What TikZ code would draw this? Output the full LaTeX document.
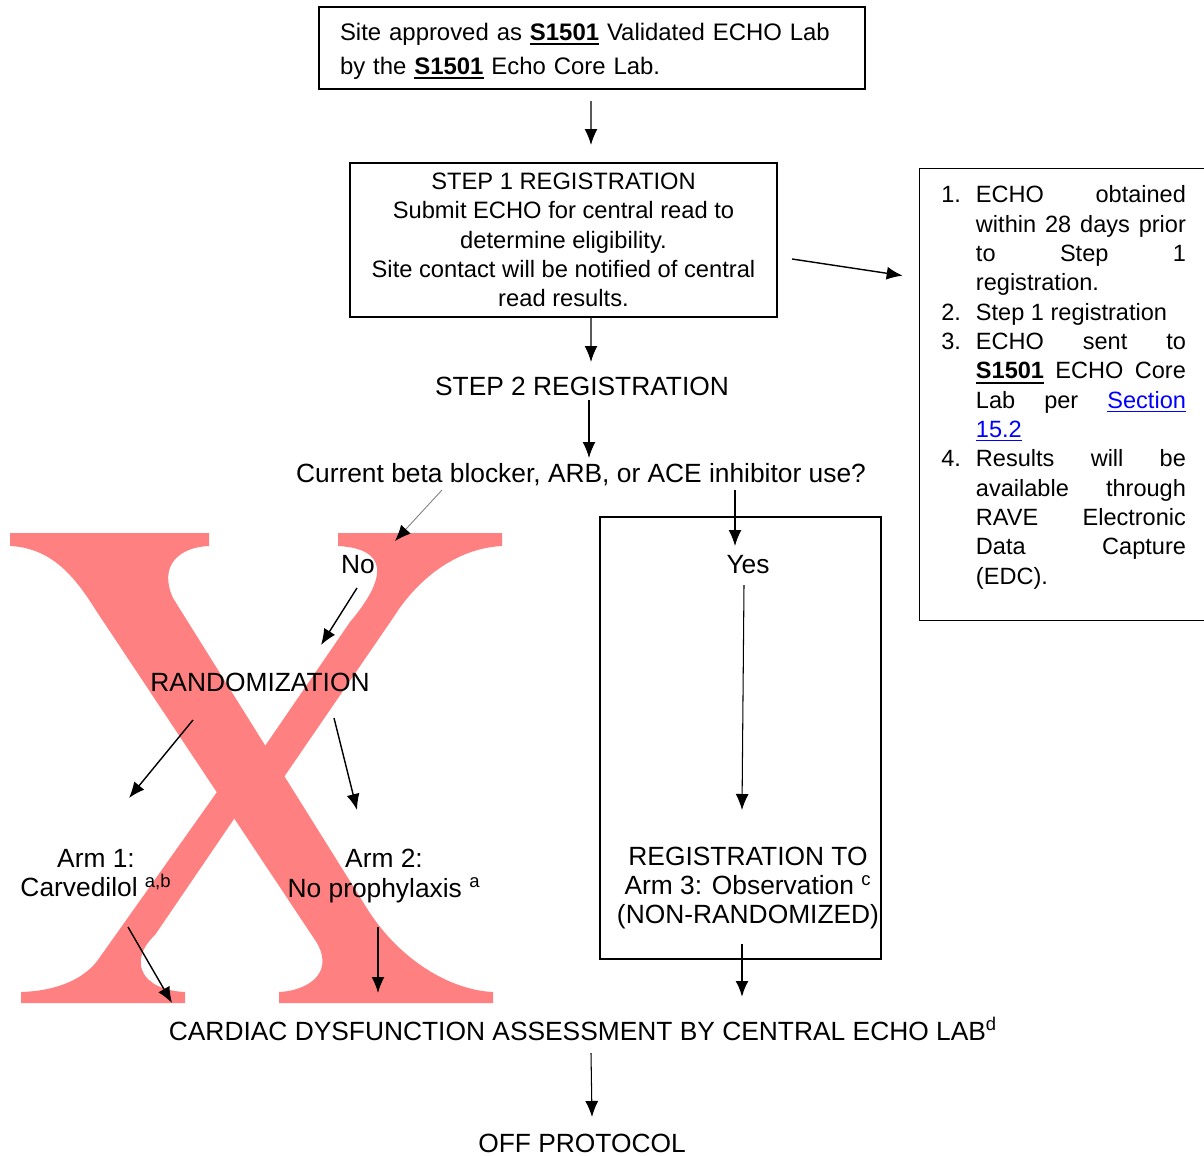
\documentclass[tikz,border=0pt]{standalone}
\usepackage{fontspec}
\setmainfont{Liberation Sans}
\usepackage{xcolor}
\usepackage{tikz}
\usetikzlibrary{calc}
\usetikzlibrary{arrows.meta}
\usetikzlibrary{positioning}
\definecolor{xred}{RGB}{255,128,128}
\definecolor{linkblue}{RGB}{0,0,255}
\newcommand{\trialid}{\setbox0\hbox{\textbf{S1501}}\rlap{\rule[-2.6pt]{\wd0}{1.1pt}}\box0}
\newcommand{\seclink}[1]{\textcolor{linkblue}{\underline{#1}}}
\newcommand{\jl}[1]{\makebox[\linewidth][s]{#1}}
\tikzset{>={Latex[length=0.32cm,width=0.26cm]}}
\tikzstyle{flowbox} = [draw=black, line width=0.8pt, inner sep=0]
\tikzstyle{lbl} = [draw=none, inner sep=0, align=center]
\tikzstyle{flow} = [->, draw=black, line width=0.8pt]

\begin{document}
\begin{tikzpicture}[x=0.02cm, y=-0.02cm, font=\fontsize{15}{16.7}\selectfont]
\useasboundingbox (0,0) rectangle (1204,1156);
\fill [xred] (10,533) -- (209,533) -- (209,546) .. controls (180,547) and (158,565) .. (173,598) -- (368,910) .. controls (400,960) and (450,990) .. (493,992) -- (493,1003) -- (279,1003) -- (279,992) .. controls (305,991) and (335,975) .. (317,943) -- (97,612) .. controls (78,582) and (55,548) .. (10,546) -- cycle;
\fill [xred] (338,533) -- (502,533) -- (502,546) .. controls (460,548) and (420,575) .. (393,618) -- (284,777) -- (268,770) -- (265,746) -- (350,622) .. controls (398,565) and (375,548) .. (338,546) -- cycle;
\fill [xred] (217,792) -- (240,800) -- (234,819) -- (155,935) .. controls (128,960) and (140,990) .. (185,992) -- (185,1003) -- (21,1003) -- (21,992) .. controls (55,991) and (85,980) .. (100,957) -- cycle;

\node [flowbox, minimum width=10.92cm, minimum height=1.64cm, text width=10.08cm, align=left, font=\fontsize{13.6}{19.3}\selectfont] (approved) at (592,48) {\rule{0pt}{13.3pt}Site approved as \trialid{} Validated ECHO Lab\\by the \trialid{} Echo Core Lab.};
\node [flowbox, minimum width=8.54cm, minimum height=3.08cm, align=center, font=\fontsize{13.5}{16.7}\selectfont] (step1) at (563.5,240) {STEP 1 REGISTRATION\\Submit ECHO for central read to\\determine eligibility.\\Site contact will be notified of central\\read results.};
\node [flowbox, anchor=north west, minimum width=5.92cm, minimum height=9.04cm] (checks) at (919,168) {};
\node [lbl, anchor=north west, align=left, font=\fontsize{13.4}{16.7}\selectfont] (checklist) at ($(checks.north west)+(22,14)$) {\begin{tabular}{@{}r@{\hspace{0.3cm}}p{4.2cm}@{}}
1. & \jl{ECHO obtained}\\
 & \jl{within 28 days prior}\\
 & \jl{to Step 1}\\
 & registration.\\
2. & Step 1 registration\\
3. & \jl{ECHO sent to}\\
 & \jl{\trialid{} ECHO Core}\\
 & \jl{Lab per \seclink{Section}}\\
 & \seclink{15.2}\\
4. & \jl{Results will be}\\
 & \jl{available through}\\
 & \jl{RAVE Electronic}\\
 & \jl{Data Capture}\\
 & (EDC).
\end{tabular}};

\node [lbl] (step2) at (582,386) {STEP 2 REGISTRATION};
\node [lbl] (question) at (581,475) {Current beta blocker, ARB, or ACE inhibitor use?};
\node [lbl] (no) at (358,565) {No};
\node [lbl] (rand) at (260,682) {RANDOMIZATION};
\node [lbl] (arm1) at (96,873) {Arm 1:\\Carvedilol \textsuperscript{a,b}};
\node [lbl] (arm2) at (384,876) {Arm 2:\\No prophylaxis \textsuperscript{a}};
\node [flowbox, minimum width=5.62cm, minimum height=8.84cm, line width=1.2pt] (obsbox) at (740.5,738) {};
\node [lbl] (yes) at (748,565) {Yes};
\node [lbl] (arm3) at (748,888) {REGISTRATION TO\\Arm 3: Observation \textsuperscript{c}\\(NON-RANDOMIZED)};
\node [lbl] (assess) at (583,1029) {CARDIAC DYSFUNCTION ASSESSMENT BY CENTRAL ECHO LAB\textsuperscript{d}};
\node [lbl] (offprot) at (582,1143) {OFF PROTOCOL};

\draw [flow] ($(approved)+(-1,53)$) to ($(step1)+(27.5,-95)$);
\draw [flow] ($(step1)+(228.5,19)$) to ($(checks)+(-165,-119)$);
\draw [flow] ($(step1)+(27.5,78)$) to ($(step2)+(9,-24)$);
\draw [flow] ($(step2)+(7,14)$) to ($(question)+(8,-17)$);
\draw [flow, draw=gray, line width=0.5pt, -{Latex[length=0.32cm,width=0.26cm,color=black]}] ($(question)+(-139,15)$) to ($(no)+(37,-24)$);
\draw [flow] ($(no)+(-1,23)$) to ($(rand)+(61,-37)$);
\draw [flow] ($(rand)+(-67,38)$) to ($(arm1)+(33,-75)$);
\draw [flow] ($(rand)+(74,36)$) to ($(arm2)+(-27,-66)$);
\draw [flow] ($(arm1)+(32,54)$) to ($(assess)+(-411,-26)$);
\draw [flow] ($(arm2)+(-6,51)$) to ($(assess)+(-205,-36)$);
\draw [flow] ($(question)+(154,15)$) to ($(yes)+(-13,-19)$);
\draw [flow, line width=0.6pt] ($(yes)+(-4,20)$) to ($(arm3)+(-6,-78)$);
\draw [flow, line width=1.3pt] ($(arm3)+(-6,56)$) to ($(assess)+(159,-32)$);
\draw [flow, line width=0.6pt] ($(assess)+(8,24)$) to ($(offprot)+(10,-26)$);
\end{tikzpicture}
\end{document}
